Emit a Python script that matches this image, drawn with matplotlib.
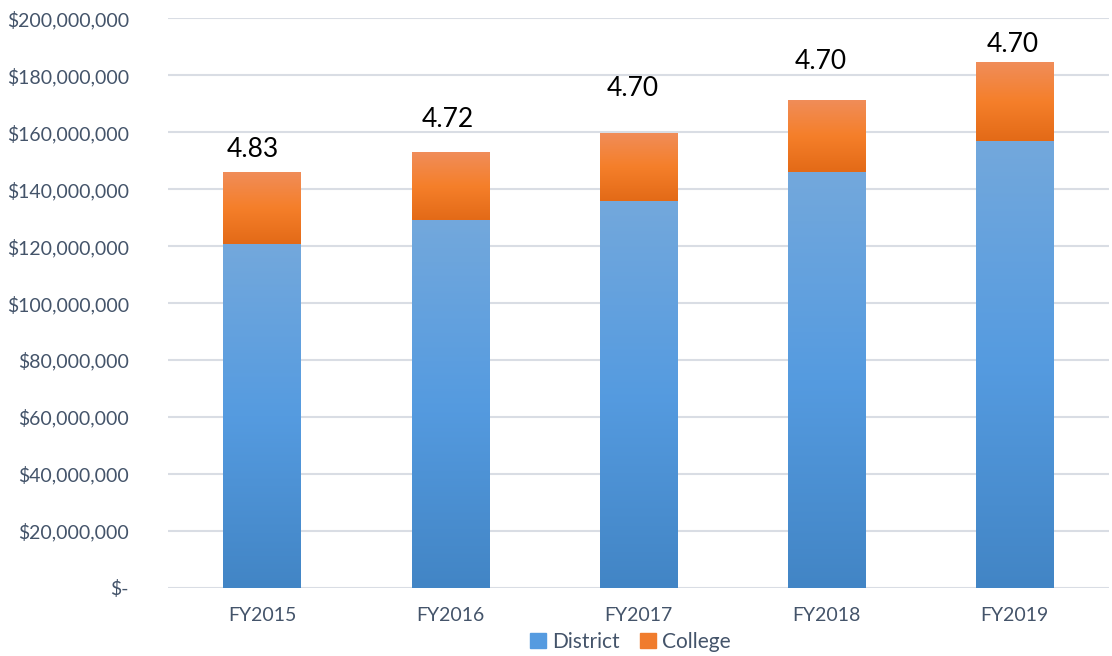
import numpy as np
import matplotlib
matplotlib.use('Agg')
import matplotlib.pyplot as plt
from matplotlib.colors import LinearSegmentedColormap
from matplotlib.patches import Patch
from matplotlib.ticker import FuncFormatter

plt.rcParams['font.family'] = ['Lato', 'DejaVu Sans']

years = ['FY2015', 'FY2016', 'FY2017', 'FY2018', 'FY2019']
district = [120.6e6, 129.3e6, 135.7e6, 145.9e6, 156.8e6]
college = [25.6e6, 23.6e6, 24.2e6, 25.6e6, 27.7e6]
ratios = ['4.83', '4.72', '4.70', '4.70', '4.70']

# label placement above each stack (as in the original chart)
lab_dy = [7.8e6, 11.6e6, 15.5e6, 13.4e6, 6.4e6]
lab_dx = [-0.05, -0.01, -0.03, -0.03, -0.01]

TXT = '#44546a'
blue_cm = LinearSegmentedColormap.from_list('b', ['#4285c5', '#559be0', '#73a8dc'])
orange_cm = LinearSegmentedColormap.from_list('o', ['#e36a17', '#f57f2a', '#f08d5a'])

fig, ax = plt.subplots(figsize=(11.12, 6.56), dpi=100)
fig.subplots_adjust(left=0.151, right=0.997, top=0.972, bottom=0.104)

x = np.arange(len(years))
w = 0.41
b1 = ax.bar(x, district, w, color='none', zorder=2)
b2 = ax.bar(x, college, w, bottom=district, color='none', zorder=2)


def shade(bars, cmap):
    grad = np.linspace(0, 1, 256).reshape(-1, 1)
    for b in bars:
        x0, y0 = b.get_x(), b.get_y()
        im = ax.imshow(grad, cmap=cmap, aspect='auto', origin='lower',
                       extent=[x0, x0 + b.get_width(), y0, y0 + b.get_height()],
                       zorder=2)
        im.set_clip_path(b)


shade(b1, blue_cm)
shade(b2, orange_cm)

for i, r in enumerate(ratios):
    ax.text(x[i] + lab_dx[i], district[i] + college[i] + lab_dy[i], r,
            ha='center', va='center', fontsize=19, color='black')

ax.set_xlim(-0.5, len(years) - 0.5)
ax.set_ylim(0, 200e6)
ax.set_yticks(np.arange(0, 200e6 + 1, 20e6))
ax.yaxis.set_major_formatter(FuncFormatter(
    lambda v, p: '$-' if v == 0 else f'${v:,.0f}'))
ax.set_xticks(x)
ax.set_xticklabels(years)
ax.tick_params(axis='both', length=0, labelsize=14, labelcolor=TXT)
ax.tick_params(axis='y', pad=28)
ax.tick_params(axis='x', pad=14)
ax.grid(axis='y', color='#d9dde4', lw=1.5, zorder=0)
ax.set_axisbelow(True)
for s in ax.spines.values():
    s.set_visible(False)

handles = [Patch(color='#559be0', label='District'),
           Patch(color='#f07c2d', label='College')]
fig.legend(handles=handles, loc='lower center', ncol=2, frameon=False,
           bbox_to_anchor=(0.567, -0.022), fontsize=15, labelcolor=TXT,
           handlelength=0.75, handleheight=0.75, handletextpad=0.3,
           columnspacing=1.0)

fig.savefig('out.png', dpi=100)
